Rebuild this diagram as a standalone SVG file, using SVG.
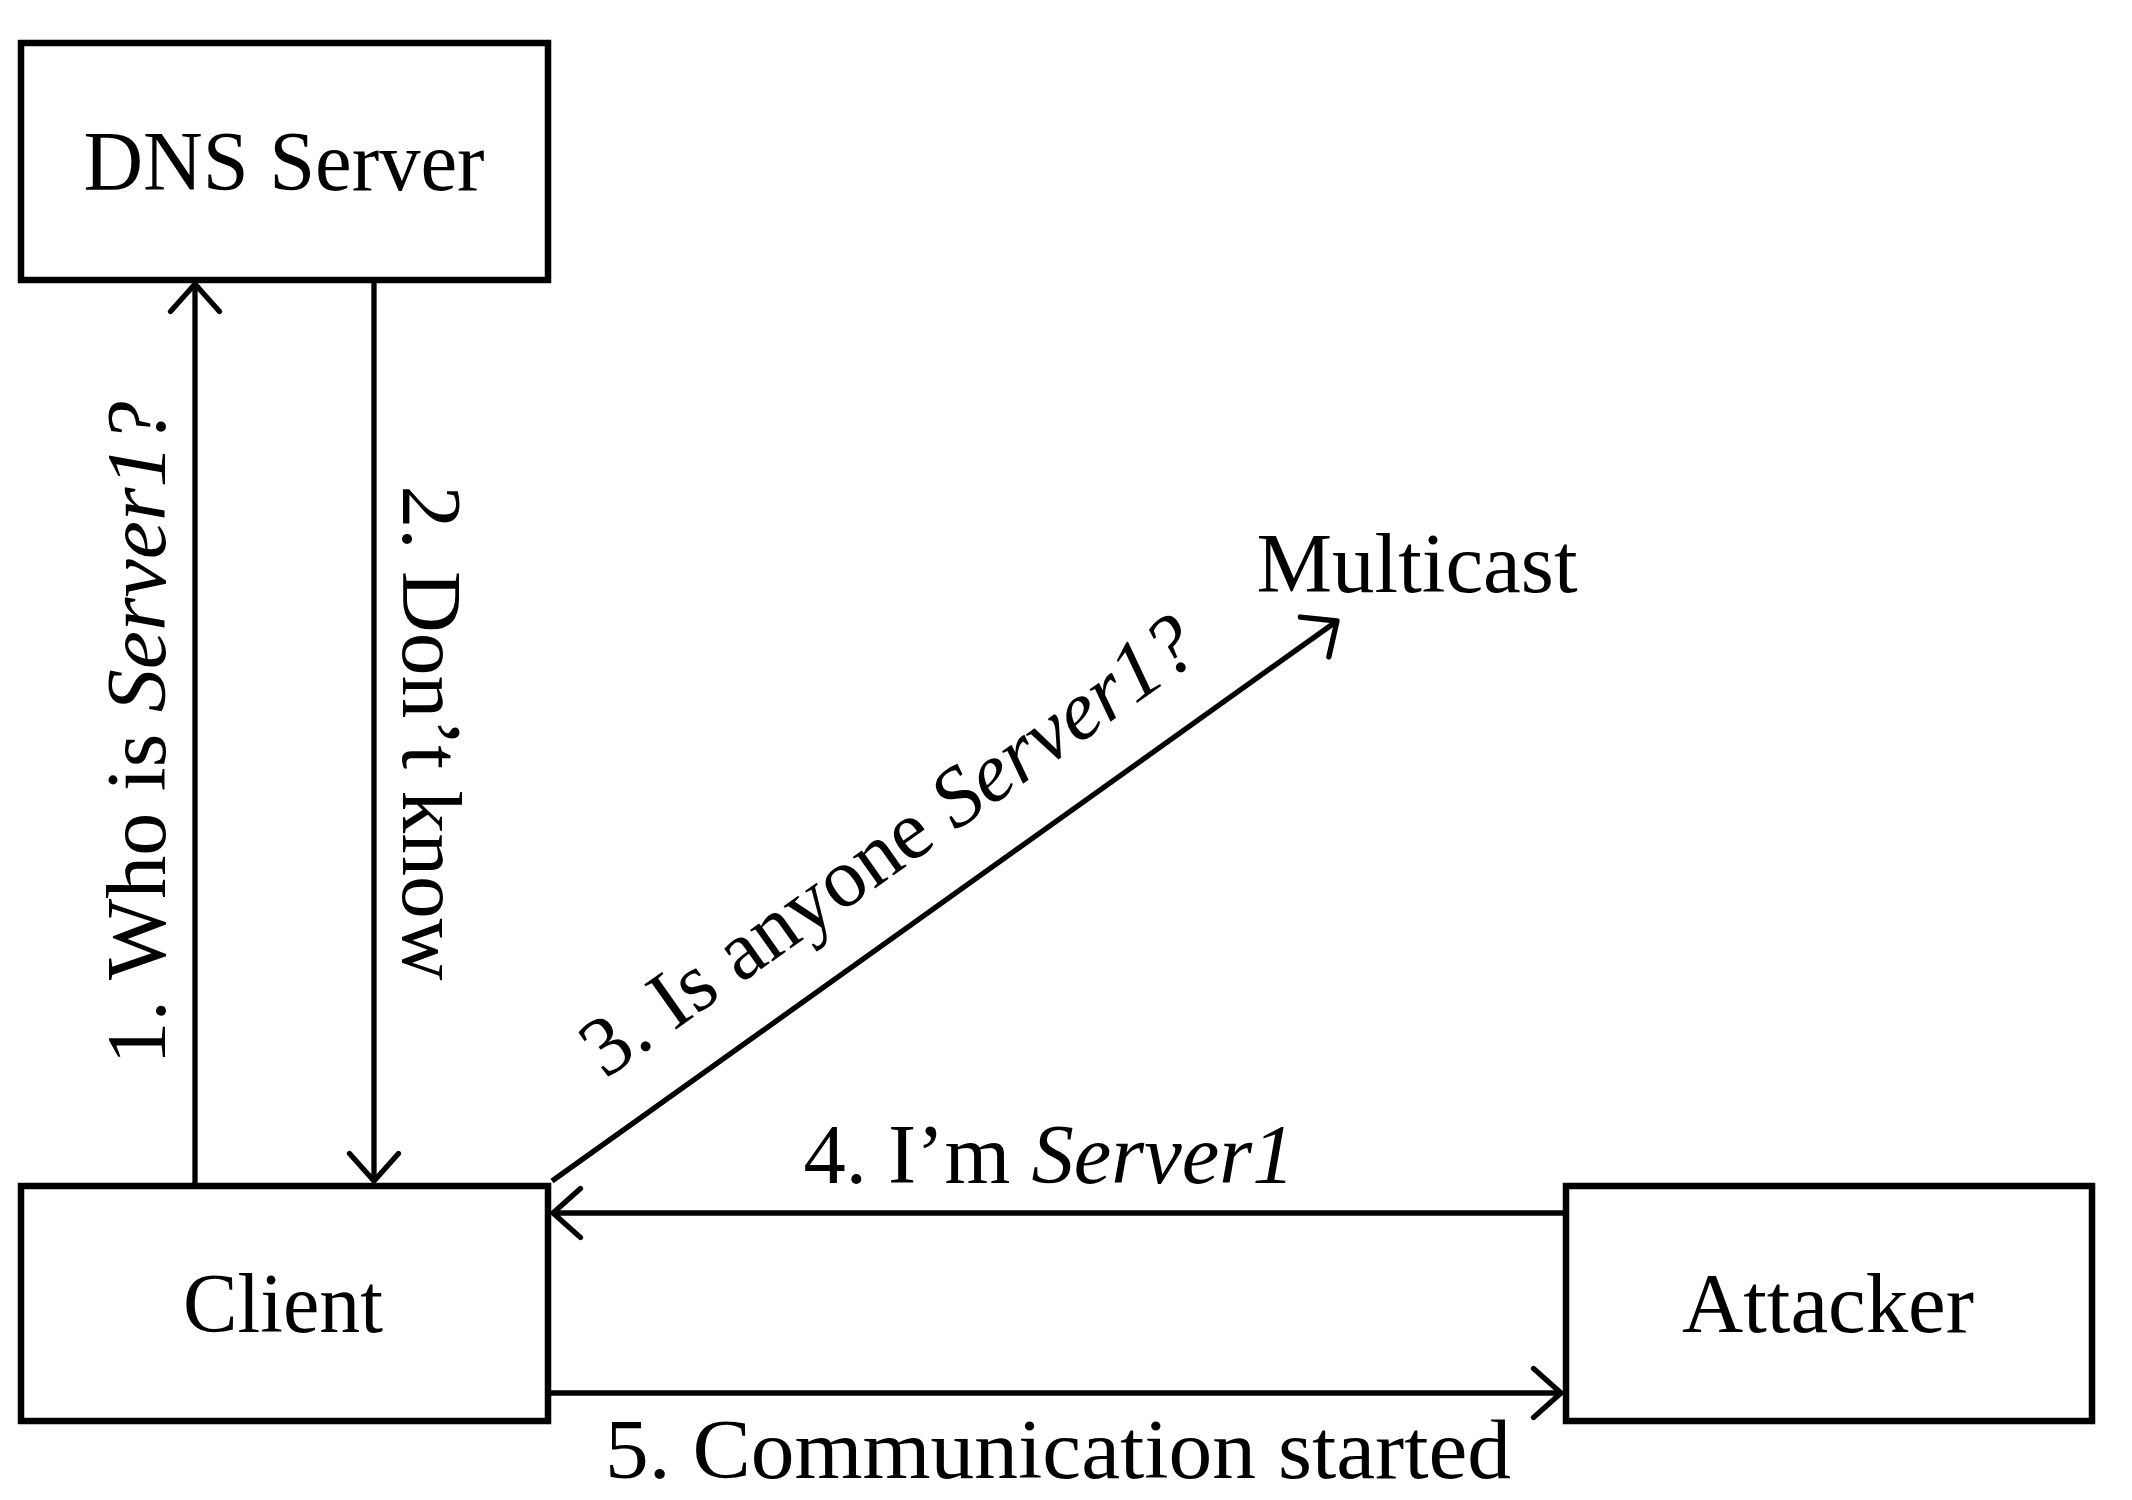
<svg xmlns="http://www.w3.org/2000/svg" width="2132" height="1500" viewBox="0 0 2132 1500">
<style>
.box{fill:#fff;stroke:#000;stroke-width:6.5}
.lbl{font-family:"Liberation Serif","Times New Roman",serif;font-size:84px;fill:#000}
.it{font-style:italic}
.edge{fill:none;stroke:#000;stroke-width:5.3}
</style>
<defs>
<marker id="arr" markerUnits="userSpaceOnUse" markerWidth="60" markerHeight="60" refX="0" refY="0" orient="auto" overflow="visible">
<path d="M -27.5 -24.5 L 0 0 L -27.5 24.5" fill="none" stroke="#000" stroke-width="5.3" stroke-linecap="round" stroke-linejoin="round"/>
</marker>
</defs>
<rect width="2132" height="1500" fill="#fff"/>
<g id="dns">
<rect class="box" x="21" y="43" width="527" height="237"/>
<text class="lbl" x="284" y="190" text-anchor="middle" textLength="401" lengthAdjust="spacingAndGlyphs">DNS Server</text>
</g>
<g id="client">
<rect class="box" x="21" y="1186" width="527" height="235"/>
<text class="lbl" x="283" y="1332" text-anchor="middle" textLength="200" lengthAdjust="spacingAndGlyphs">Client</text>
</g>
<g id="attacker">
<rect class="box" x="1566" y="1186" width="526" height="235"/>
<text class="lbl" x="1828" y="1332" text-anchor="middle" textLength="292" lengthAdjust="spacingAndGlyphs">Attacker</text>
</g>
<g id="multicast">
<text class="lbl" x="1417" y="592" text-anchor="middle" textLength="321" lengthAdjust="spacingAndGlyphs">Multicast</text>
</g>
<g id="connectors">
<line class="edge" x1="195" y1="1184" x2="195" y2="284" marker-end="url(#arr)"/>
<line class="edge" x1="374" y1="283" x2="374" y2="1181" marker-end="url(#arr)"/>
<line class="edge" x1="552" y1="1181" x2="1337" y2="621" marker-end="url(#arr)"/>
<line class="edge" x1="1564" y1="1213" x2="553" y2="1213" marker-end="url(#arr)"/>
<line class="edge" x1="550" y1="1393" x2="1561" y2="1393" marker-end="url(#arr)"/>
<text class="lbl" transform="translate(165,733) rotate(-90)" x="0" y="0" text-anchor="middle" textLength="663" lengthAdjust="spacingAndGlyphs">1. Who is <tspan class="it">Server1?</tspan></text>
<text class="lbl" transform="translate(403,733) rotate(90)" x="0" y="0" text-anchor="middle" textLength="495" lengthAdjust="spacingAndGlyphs">2. Don’t know</text>
<text class="lbl" transform="translate(904,868) rotate(-35.3)" x="0" y="0" text-anchor="middle" textLength="733" lengthAdjust="spacingAndGlyphs">3. Is anyone <tspan class="it">Server1?</tspan></text>
<text class="lbl" x="1049" y="1183" text-anchor="middle" textLength="491" lengthAdjust="spacingAndGlyphs">4. I’m <tspan class="it">Server1</tspan></text>
<text class="lbl" x="1058" y="1478" text-anchor="middle" textLength="906" lengthAdjust="spacingAndGlyphs">5. Communication started</text>
</g>
</svg>
